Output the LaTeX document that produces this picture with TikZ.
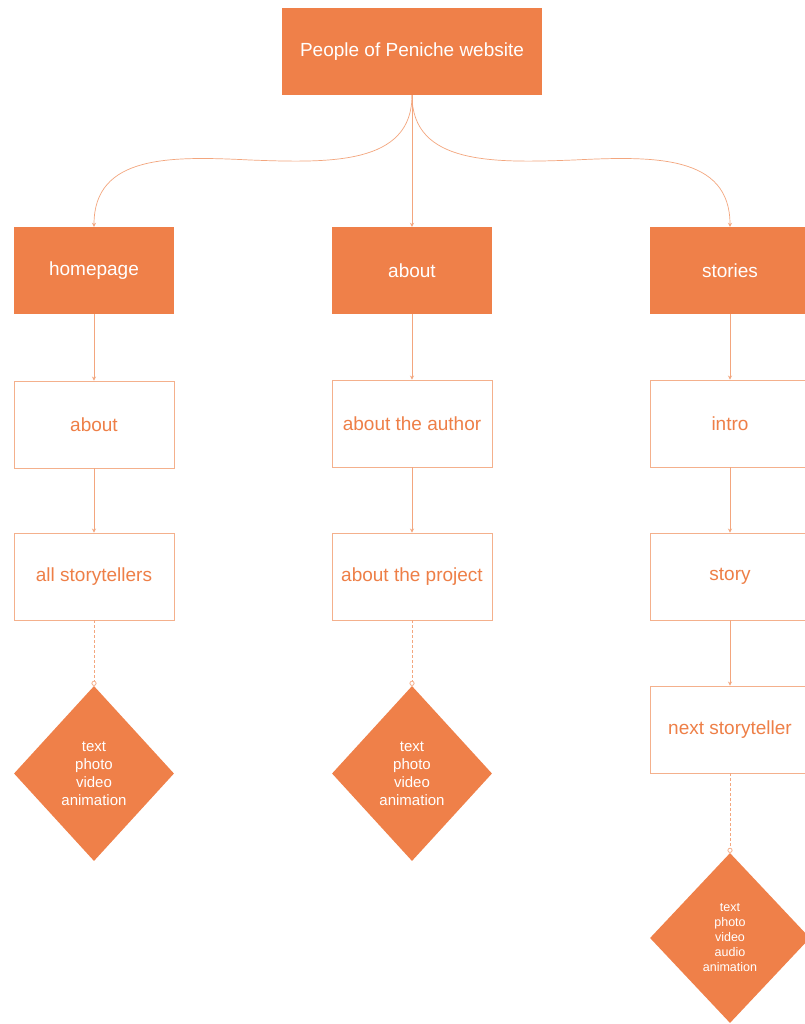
\documentclass[tikz,border=0pt]{standalone}
\usepackage{fontspec}
\setmainfont{Liberation Sans}
\usetikzlibrary{shapes.geometric,arrows.meta}
\definecolor{orfill}{HTML}{EF8049}
\definecolor{orline}{HTML}{F3A67E}
\definecolor{orbox}{HTML}{F4B08C}
\definecolor{ortext}{HTML}{EE7F47}
\begin{document}
\begin{tikzpicture}[x=1pt,y=-1pt,
  filled/.style={rectangle, fill=orfill, text=white, minimum width=160pt, minimum height=87pt, inner sep=0pt, font=\fontsize{19}{22}\selectfont},
  outl/.style={rectangle, draw=orbox, line width=0.9pt, fill=white, text=ortext, minimum width=160pt, minimum height=87pt, inner sep=0pt, font=\fontsize{19}{22}\selectfont},
  dia/.style={diamond, fill=orfill, text=white, minimum width=160pt, minimum height=175pt, inner sep=0pt, align=center, font=\fontsize{15}{18}\selectfont},
  diasmall/.style={dia, minimum height=170pt, font=\fontsize{12.5}{15}\selectfont},
  conn/.style={draw=orline, line width=0.7pt, -{Stealth[length=4pt,width=4pt]}},
  dconn/.style={draw=orline, line width=0.7pt, dash pattern=on 3pt off 2pt, -{Circle[open,length=5pt,width=5pt]}}
]
\useasboundingbox (0,0) rectangle (804,1024);
\fill[white] (0,0) rectangle (804,1024);

\node[filled, minimum width=260pt] (top) at (412,51.5) {People of Peniche website};

\node[filled] (home) at (94,270.5) {homepage};
\node[filled] (abt) at (412,270.5) {about};
\node[filled] (sto) at (730,270.5) {stories};

\node[outl] (habout) at (94,424.5) {about};
\node[outl] (hall) at (94,576.5) {all storytellers};
\node[dia] (hdia) at (94,773.5) {text\\photo\\video\\animation};

\node[outl] (aauth) at (412,423.5) {about the author};
\node[outl] (aproj) at (412,576.5) {about the project};
\node[dia] (adia) at (412,773.5) {text\\photo\\video\\animation};

\node[outl] (sintro) at (730,423.5) {intro};
\node[outl] (sstory) at (730,576.5) {story};
\node[outl] (snext) at (730,729.5) {next storyteller};
\node[diasmall] (sdia) at (730,938) {text\\photo\\video\\audio\\animation};

\draw[conn] (top.south) .. controls (412,165) and (330,163) .. (250,160)
  .. controls (170,156) and (94,155) .. (home.north);
\draw[conn] (top.south) .. controls (412,165) and (494,163) .. (574,160)
  .. controls (654,156) and (730,155) .. (sto.north);
\draw[conn] (top.south) -- (abt.north);

\draw[conn] (home) -- (habout);
\draw[conn] (habout) -- (hall);
\draw[dconn] (hall) -- (hdia.north);

\draw[conn] (abt) -- (aauth);
\draw[conn] (aauth) -- (aproj);
\draw[dconn] (aproj) -- (adia.north);

\draw[conn] (sto) -- (sintro);
\draw[conn] (sintro) -- (sstory);
\draw[conn] (sstory) -- (snext);
\draw[dconn] (snext) -- (sdia.north);
\end{tikzpicture}
\end{document}
